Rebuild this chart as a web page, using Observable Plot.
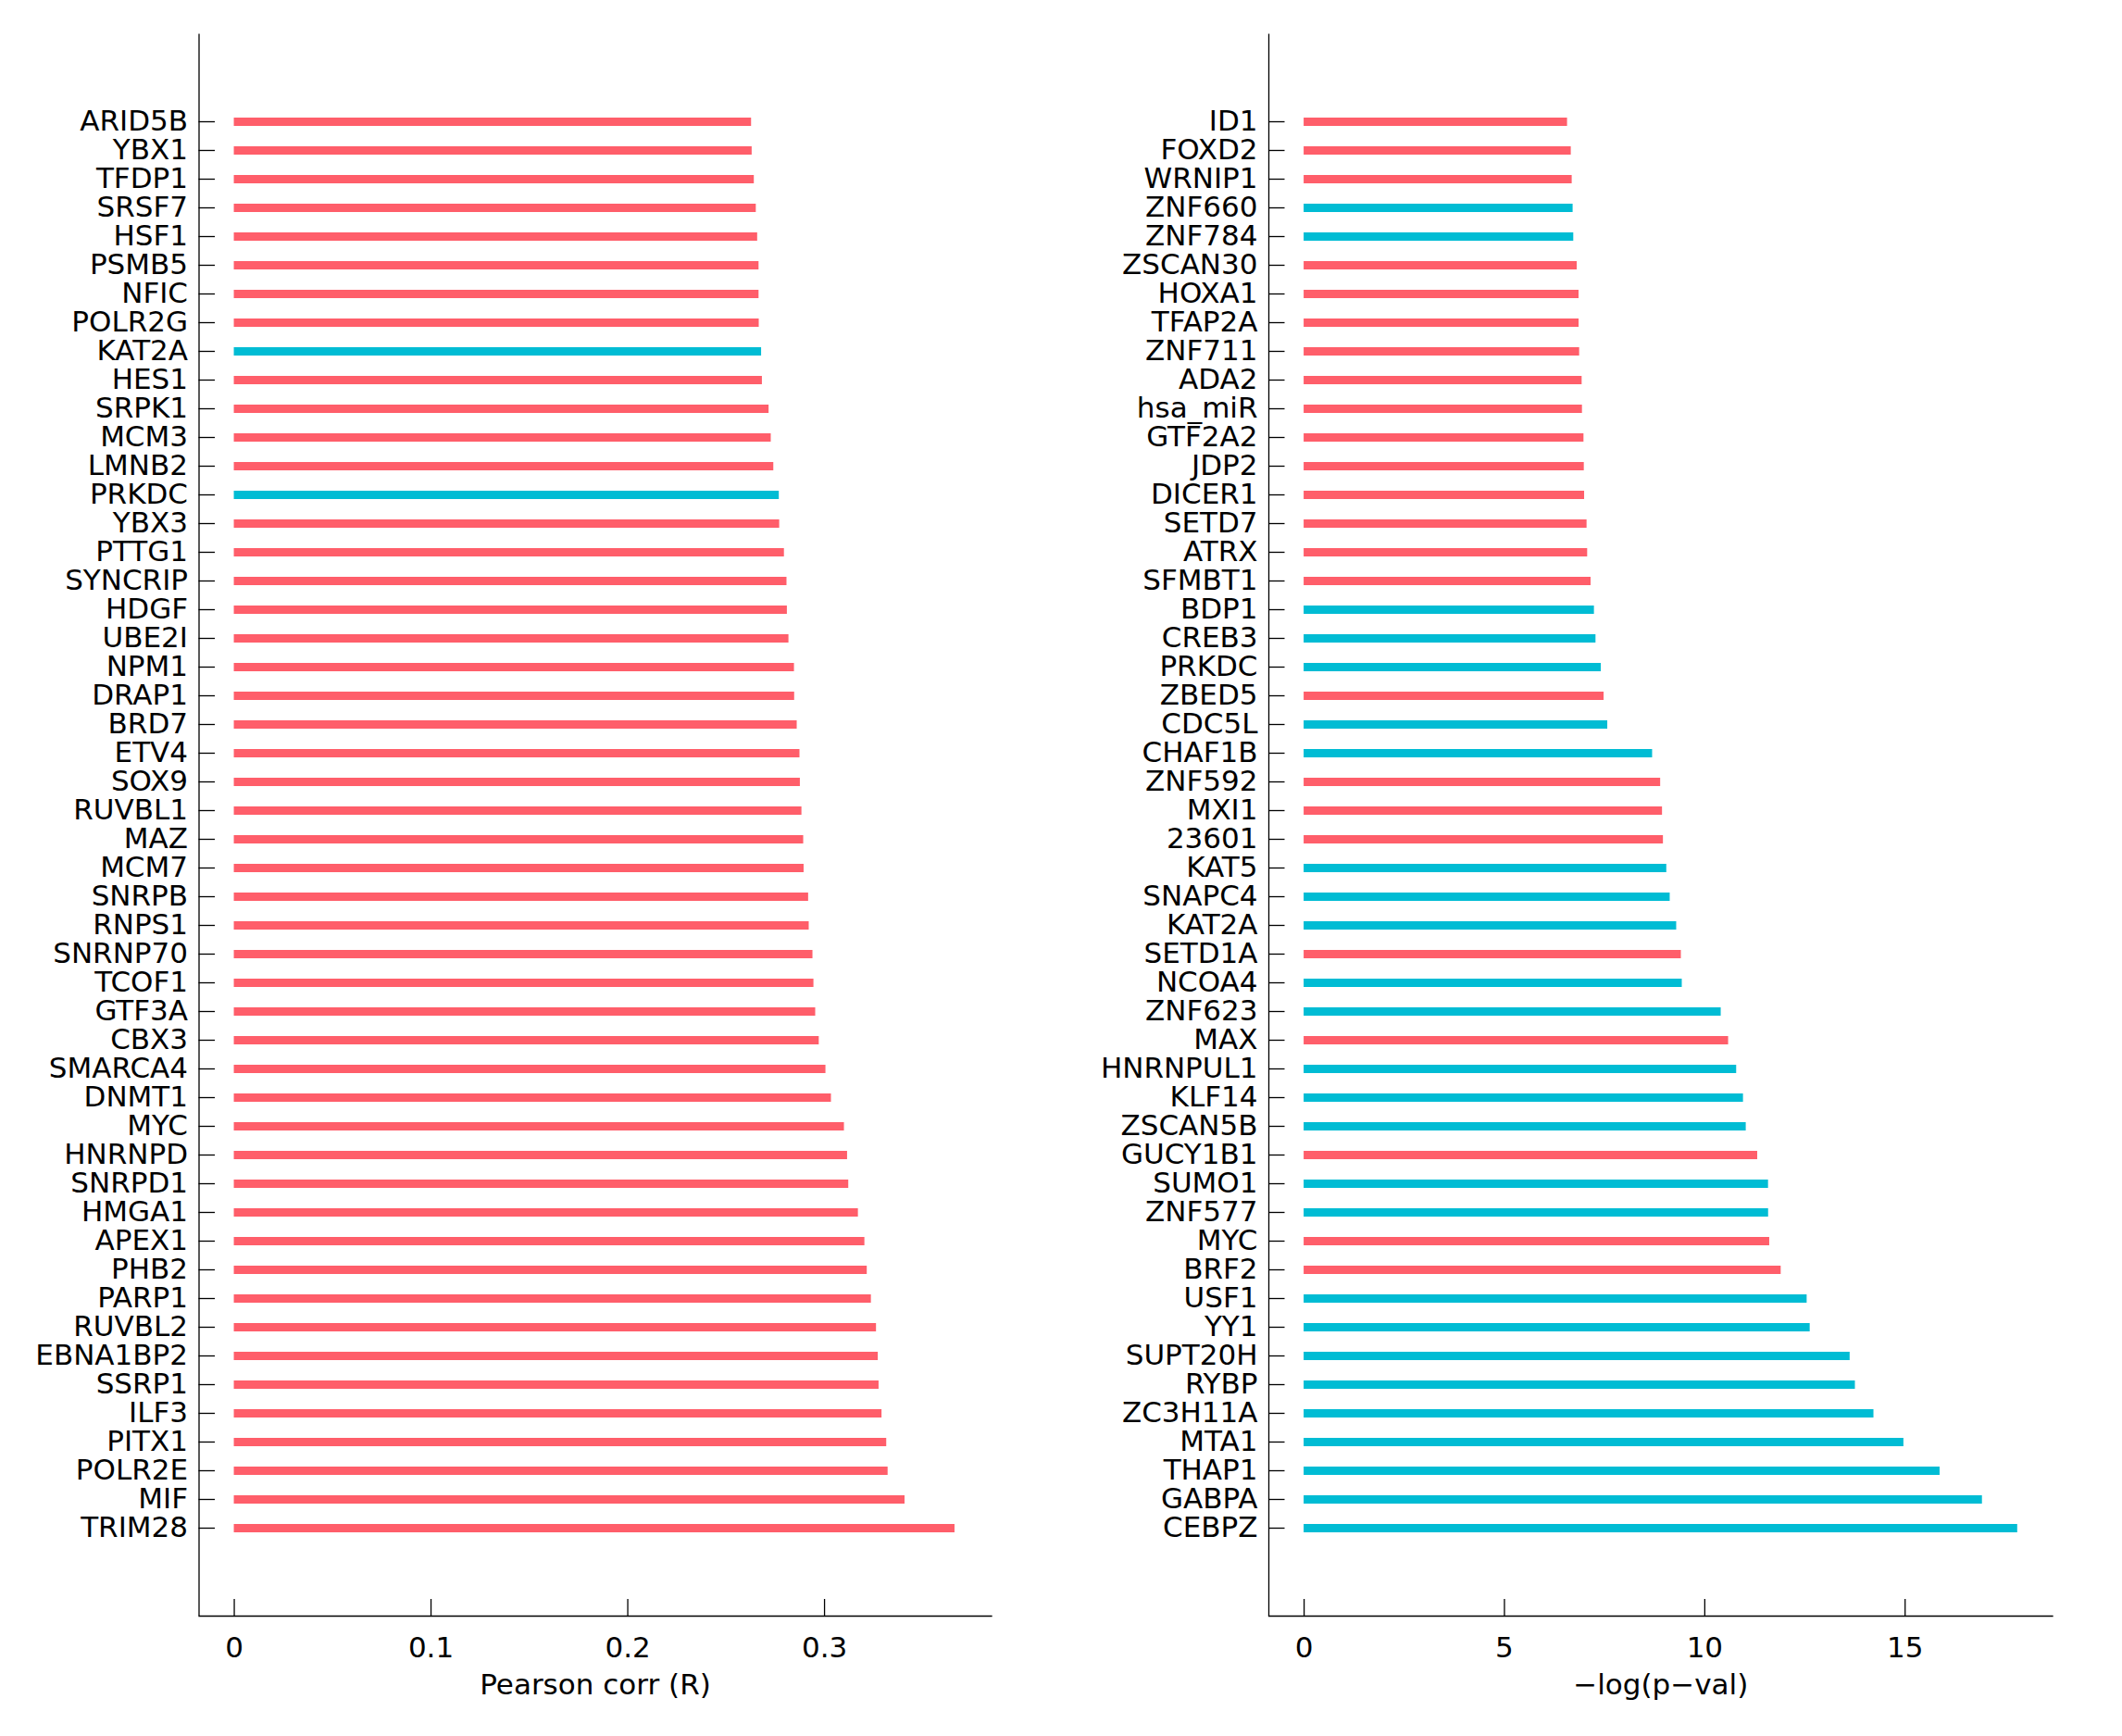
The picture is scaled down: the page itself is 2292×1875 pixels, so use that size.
<!DOCTYPE html>
<html><head><meta charset="utf-8">
<script src="https://cdn.jsdelivr.net/npm/d3@7"></script>
<script src="https://cdn.jsdelivr.net/npm/@observablehq/plot@0.6"></script>
<style>
html,body{margin:0;padding:0;background:#fff;}
#wrap{display:flex;flex-direction:row;width:2292px;height:1875px;}
#wrap svg{display:block;}
</style></head><body><div id="wrap"></div>
<script>
const leftNames = ["ARID5B","YBX1","TFDP1","SRSF7","HSF1","PSMB5","NFIC","POLR2G","KAT2A","HES1",
  "SRPK1","MCM3","LMNB2","PRKDC","YBX3","PTTG1","SYNCRIP","HDGF","UBE2I","NPM1",
  "DRAP1","BRD7","ETV4","SOX9","RUVBL1","MAZ","MCM7","SNRPB","RNPS1","SNRNP70",
  "TCOF1","GTF3A","CBX3","SMARCA4","DNMT1","MYC","HNRNPD","SNRPD1","HMGA1","APEX1",
  "PHB2","PARP1","RUVBL2","EBNA1BP2","SSRP1","ILF3","PITX1","POLR2E","MIF","TRIM28"];
const leftValues = [0.2629,0.2632,0.2643,0.2653,0.2660,0.2667,0.2667,0.2668,0.2680,0.2684,
  0.2718,0.2729,0.2742,0.2770,0.2772,0.2796,0.2809,0.2811,0.2819,0.2847,
  0.2848,0.2861,0.2875,0.2877,0.2885,0.2894,0.2896,0.2919,0.2922,0.2941,
  0.2946,0.2955,0.2973,0.3007,0.3035,0.3101,0.3117,0.3123,0.3172,0.3205,
  0.3217,0.3238,0.3264,0.3273,0.3277,0.3292,0.3316,0.3323,0.3409,0.3663];
const leftGroups = ["A","A","A","A","A","A","A","A","B","A",
  "A","A","A","B","A","A","A","A","A","A",
  "A","A","A","A","A","A","A","A","A","A",
  "A","A","A","A","A","A","A","A","A","A",
  "A","A","A","A","A","A","A","A","A","A"];

const rightNames = ["ID1","FOXD2","WRNIP1","ZNF660","ZNF784","ZSCAN30","HOXA1","TFAP2A","ZNF711","ADA2",
  "hsa_miR","GTF2A2","JDP2","DICER1","SETD7","ATRX","SFMBT1","BDP1","CREB3","PRKDC",
  "ZBED5","CDC5L","CHAF1B","ZNF592","MXI1","23601","KAT5","SNAPC4","KAT2A","SETD1A",
  "NCOA4","ZNF623","MAX","HNRNPUL1","KLF14","ZSCAN5B","GUCY1B1","SUMO1","ZNF577","MYC",
  "BRF2","USF1","YY1","SUPT20H","RYBP","ZC3H11A","MTA1","THAP1","GABPA","CEBPZ"];
const rightValues = [6.574,6.667,6.690,6.713,6.729,6.815,6.861,6.862,6.876,6.938,
  6.946,6.984,6.992,7.000,7.061,7.076,7.161,7.245,7.284,7.416,
  7.486,7.578,8.697,8.898,8.944,8.967,9.051,9.136,9.298,9.414,
  9.437,10.409,10.594,10.795,10.965,11.034,11.320,11.590,11.592,11.620,
  11.906,12.554,12.630,13.627,13.758,14.221,14.969,15.872,16.929,17.809];
const rightGroups = ["A","A","A","B","B","A","A","A","A","A",
  "A","A","A","A","A","A","A","B","B","B",
  "A","B","B","A","A","A","B","B","B","A",
  "B","B","A","B","B","B","A","B","B","A",
  "A","B","B","B","B","B","B","B","B","B"];

const leftTicks = [0, 0.1, 0.2, 0.3];
const rightTicks = [0, 5, 10, 15];
const leftLabel = "Pearson corr (R)";
const rightLabel = "\u2212log(p\u2212val)";
const groupDomain = ["A", "B"];
const groupColors = ["#ff5e6a", "#00bcd4"];

const W = 1146, H = 1875, MT = 36.4, MB = 130, MR = 75.5;
const TICK = 17.5;

function panel(names, values, groups, ticks, xDomain, label, marginLeft) {
  const data = names.map((n, i) => ({name: n, value: values[i], group: groups[i]}));
  const plotW = W - marginLeft - MR;
  const plotH = H - MT - MB;
  return Plot.plot({
    width: W, height: H,
    marginLeft, marginRight: MR, marginTop: MT, marginBottom: MB,
    style: {fontFamily: "DejaVu Sans", fontSize: "31px", color: "black", background: "white", overflow: "visible"},
    x: {domain: xDomain, label: null},
    y: {type: "point", domain: names, padding: 3, label: null},
    color: {domain: groupDomain, range: groupColors},
    marks: [
      Plot.ruleY(data, {y: "name", x1: 0, x2: "value", stroke: "group", strokeWidth: 9}),
      Plot.ruleX([xDomain[0]], {stroke: "black", strokeWidth: 1.3}),
      Plot.frame({anchor: "bottom", stroke: "black", strokeWidth: 1.3}),
      Plot.tickY(names, {y: d => d, insetRight: plotW - TICK, stroke: "black", strokeWidth: 1.3}),
      Plot.tickX(ticks, {x: d => d, insetTop: plotH - 18, stroke: "black", strokeWidth: 1.3}),
      Plot.axisY({tickSize: 0, tickPadding: 12, fontSize: 31, label: null}),
      Plot.axisX({ticks, tickSize: 0, tickPadding: 22, fontSize: 31, tickFormat: d => String(d), label: null}),
      Plot.text([label], {text: d => d, frameAnchor: "bottom", dy: 75, lineAnchor: "middle", fontSize: 31})
    ]
  });
}

const wrap = document.getElementById("wrap");
wrap.appendChild(panel(leftNames, leftValues, leftGroups, leftTicks, [-0.0179, 0.3849], leftLabel, 214.5));
wrap.appendChild(panel(rightNames, rightValues, rightGroups, rightTicks, [-0.88, 18.68], rightLabel, 224));
</script></body></html>
